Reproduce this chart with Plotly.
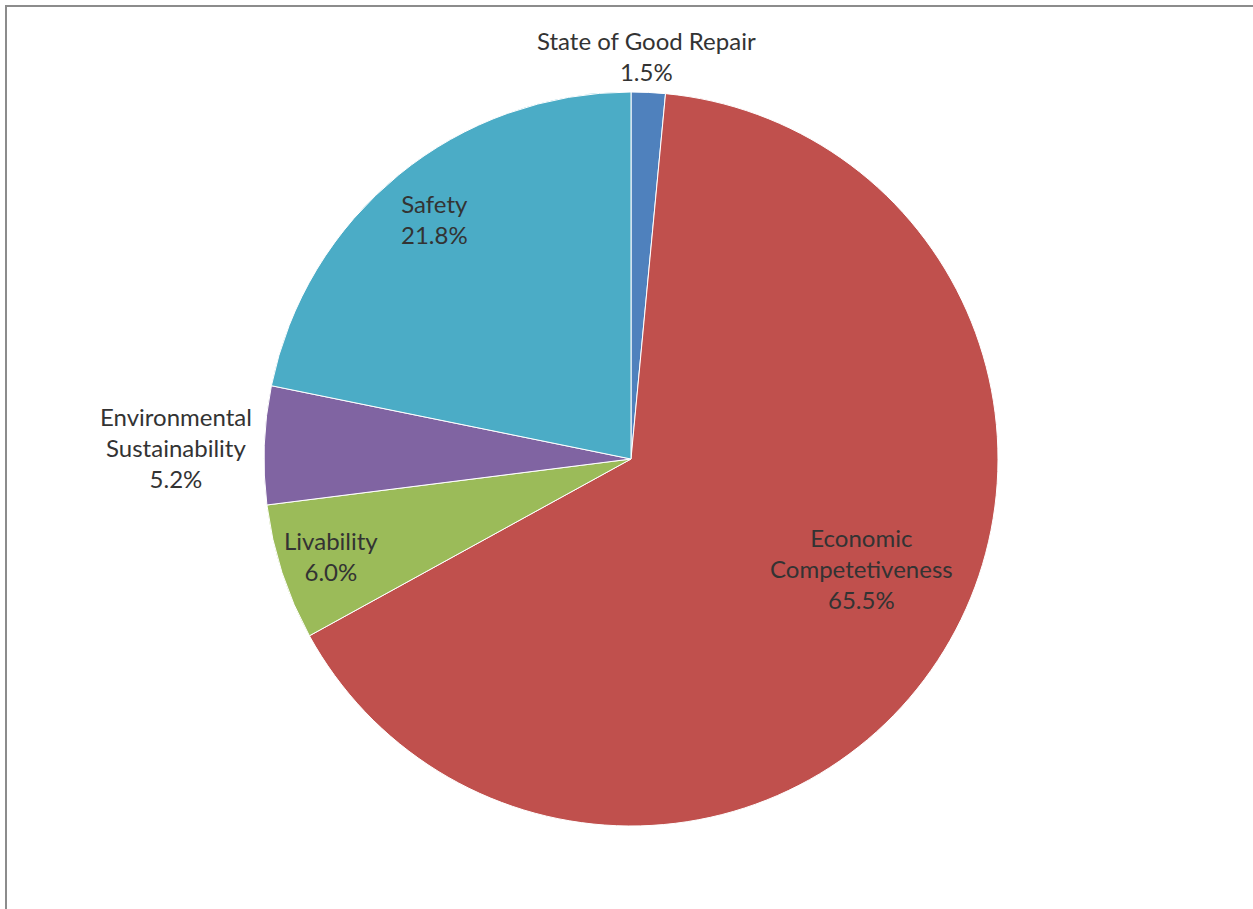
import plotly.graph_objects as go

W, H = 1253, 909

categories = ["State of Good Repair", "Economic Competetiveness", "Livability",
              "Environmental Sustainability", "Safety"]
values = [1.5, 65.5, 6.0, 5.2, 21.8]
label_texts = ["State of Good Repair<br>1.5%", "Economic<br>Competetiveness<br>65.5%",
               "Livability<br>6.0%", "Environmental<br>Sustainability<br>5.2%",
               "Safety<br>21.8%"]
colors = ["#4F81BD", "#C0504D", "#9BBB59", "#8064A2", "#4BACC6"]

# label anchor positions in page pixels (center of text block)
label_px = [(646, 56), (861, 568), (331, 556), (176, 447), (434, 219)]

cx, cy, r = 631, 459, 367

fig = go.Figure(go.Pie(
    labels=categories,
    values=values,
    sort=False,
    direction="clockwise",
    rotation=0,
    marker=dict(colors=colors, line=dict(color="white", width=1)),
    textinfo="none",
    hoverinfo="label+percent",
    domain=dict(x=[(cx - r) / W, (cx + r) / W], y=[(H - cy - r) / H, (H - cy + r) / H]),
    showlegend=False,
))

for txt, (px, py) in zip(label_texts, label_px):
    fig.add_annotation(
        x=px / W, y=1 - py / H, xref="paper", yref="paper",
        text=txt, showarrow=False, xanchor="center", yanchor="middle",
        align="center",
        font=dict(family="Lato, Carlito, Calibri, sans-serif", size=24, color="#333333"),
    )

fig.add_shape(type="rect", xref="paper", yref="paper",
              x0=6 / W, x1=1.02, y0=-0.02, y1=1 - 6 / H,
              line=dict(color="#8c8c8c", width=2), fillcolor="rgba(0,0,0,0)")

fig.update_layout(
    width=W, height=H,
    margin=dict(l=0, r=0, t=0, b=0),
    paper_bgcolor="white", plot_bgcolor="white",
)

fig.write_html("out.html",
               config={"displayModeBar": False},
               post_script="document.body.style.margin='0';document.body.style.overflow='hidden';")
